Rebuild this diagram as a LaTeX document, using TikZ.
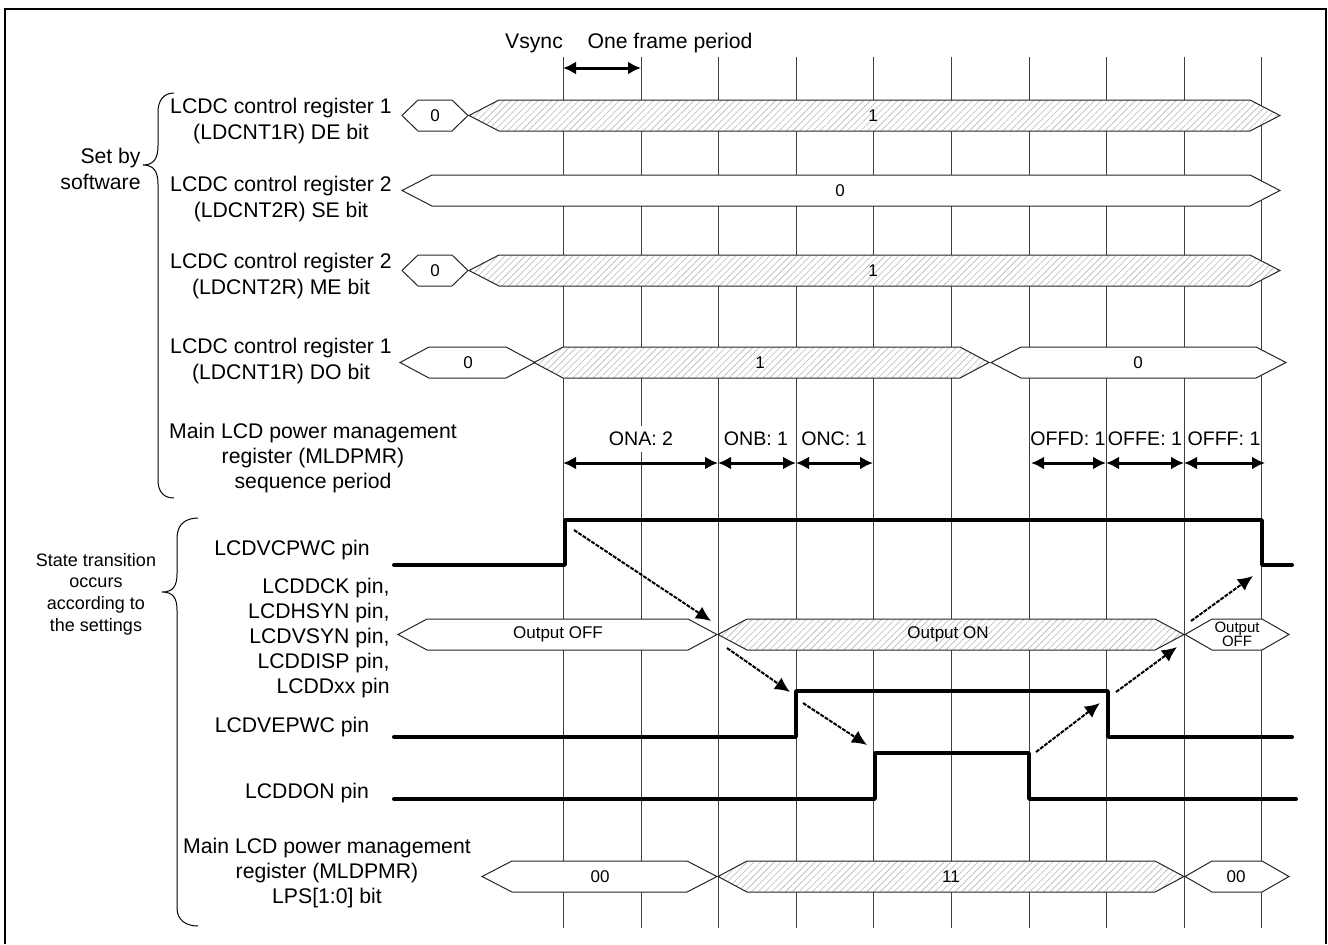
\documentclass[tikz,border=0pt]{standalone}
\usepackage{fontspec}
\setmainfont{Liberation Sans}
\usetikzlibrary{arrows.meta, patterns.meta}

\begin{document}
\begin{tikzpicture}[
  x=0.5pt, y=-0.5pt,
  rowlabel/.style={font=\fontsize{10.6}{12.6}\selectfont, align=center, inner sep=0pt},
  sidelabel/.style={font=\fontsize{9}{10.8}\selectfont, align=center, inner sep=0pt},
  buslabel/.style={font=\fontsize{8.5}{10}\selectfont, inner sep=0pt},
  frameline/.style={line width=1.2pt, black},
  tick/.style={line width=0.5pt, black!75},
  plain/.style={draw=black!85, line width=0.5pt, fill=white},
  hatched/.style={draw=black!85, line width=0.5pt, preaction={fill=white},
    pattern={Lines[angle=45, distance=2.4pt, line width=0.3pt]}, pattern color=black!28},
  span/.style={line width=1.5pt, {Latex[length=6.5pt, width=6.5pt]}-{Latex[length=6.5pt, width=6.5pt]}},
  spanlabel/.style={font=\fontsize{9.8}{12}\selectfont, fill=white, inner sep=0pt, minimum height=13pt},
  level/.style={line width=2pt, line cap=round, miter limit=1},
  cause/.style={line width=1pt, dash pattern=on 2pt off 0.6pt, -{Latex[length=7.5pt, width=7pt]}},
  curly/.style={line width=0.5pt},
]
\useasboundingbox (0,0) rectangle (1328,944);
\draw[frameline] (5,944) -- (5,9) -- (1326,9) -- (1326,944);
\foreach \x in {563,641,718,796,873,951,1029,1106,1184,1261}{
  \draw[tick] (\x,57) -- (\x,928);
}
% register and pin buses
\foreach \name/\xa/\xb/\s/\y/\kind/\lx/\val in {
  deoff/402/468/16/115.5/plain/435/0, deon/469/1280/30/115.5/hatched/873/1,
  seoff/402/1280/30/190.5/plain/840/0,
  meoff/402/468/16/270.5/plain/435/0, meon/469/1280/30/270.5/hatched/873/1,
  dooffa/400/535/29/362.5/plain/468/0, doon/534/989/29/362.5/hatched/760/1,
  dooffb/991/1286/30/362.5/plain/1138/0,
  outoffa/398/717/29/634.5/plain/558/Output OFF, outon/718/1184/29/634.5/hatched/948/Output ON,
  lpsa/482/717/30/876.5/plain/600/00, lpsb/718/1184/29/876.5/hatched/951/11,
  lpsc/1185/1289/27/876.5/plain/1236/00}{
  \draw[\kind] (\xa,\y) -- (\xa+\s,\y-15.5) -- (\xb-\s,\y-15.5) -- (\xb,\y)
    -- (\xb-\s,\y+15.5) -- (\xa+\s,\y+15.5) -- cycle;
  \node[buslabel] (\name) at (\lx,\y) {\val};
}
\draw[plain] (1185,634.5) -- (1212,619) -- (1262,619) -- (1289,634.5) -- (1262,650) -- (1212,650) -- cycle;
\node[font=\fontsize{7.5}{7}\selectfont, align=center, inner sep=0pt] (outoffb) at (1237,634) {Output\\ OFF};
% row names
\node[rowlabel] (vsync) at (534,43) {Vsync};
\node[rowlabel] (frame) at (670,43) {One frame period};
\node[rowlabel] (de) at (281,121) {LCDC control register 1\\ (LDCNT1R) DE bit};
\node[rowlabel] (se) at (281,199) {LCDC control register 2\\ (LDCNT2R) SE bit};
\node[rowlabel] (me) at (281,276) {LCDC control register 2\\ (LDCNT2R) ME bit};
\node[rowlabel] (do) at (281,361) {LCDC control register 1\\ (LDCNT1R) DO bit};
\node[rowlabel] (seq) at (313,458) {Main LCD power management\\ register (MLDPMR)\\ sequence period};
\node[rowlabel] (vcp) at (292,550) {LCDVCPWC pin};
\node[rowlabel, anchor=east, align=right] (pins) at (390,638) {LCDDCK pin,\\ LCDHSYN pin,\\ LCDVSYN pin,\\ LCDDISP pin,\\ LCDDxx pin};
\node[rowlabel] (vep) at (292,727) {LCDVEPWC pin};
\node[rowlabel] (don) at (307,793) {LCDDON pin};
\node[rowlabel] (lps) at (327,873) {Main LCD power management\\ register (MLDPMR)\\ LPS[1:0] bit};
\node[rowlabel, anchor=east, align=right] (soft) at (141,169) {Set by\\ software};
\node[sidelabel] (state) at (96,594) {State transition\\ occurs\\ according to\\ the settings};
% braces
\draw[curly] (174,93) .. controls (164,93) and (158,100) .. (158,112) -- (158,146)
  .. controls (158,158) and (154,165) .. (143,165) .. controls (154,165) and (158,172) .. (158,184)
  -- (158,480) .. controls (158,492) and (164,498) .. (174,498);
\draw[curly] (198,518) .. controls (186,518) and (177,524) .. (177,538) -- (177,574)
  .. controls (177,586) and (173,592) .. (162,592) .. controls (173,592) and (177,598) .. (177,610)
  -- (177,908) .. controls (177,920) and (186,926) .. (198,926);
% period arrows
\coordinate (fa) at (563,68);
\coordinate (fb) at (641,68);
\draw[span] (fa) -- (fb);
\foreach \name/\xa/\xb/\lx/\val in {
  ona/563/718/641/ONA: 2, onb/718/796/756/ONB: 1, onc/796/873/834/ONC: 1,
  offd/1031/1106/1068/OFFD: 1, offe/1106/1184/1145/OFFE: 1, offf/1184/1265/1224/OFFF: 1}{
  \coordinate (\name a) at (\xa,463);
  \coordinate (\name b) at (\xb,463);
  \draw[span] (\name a) -- (\name b);
  \node[spanlabel] (\name) at (\lx,439) {\val};
}
% pin levels
\draw[level] (394,565) -- (565,565) -- (565,520) -- (1262,520) -- (1262,565) -- (1292,565);
\draw[level] (394,737) -- (796,737) -- (796,691) -- (1108,691) -- (1108,737) -- (1292,737);
\draw[level] (394,799) -- (875,799) -- (875,753) -- (1029,753) -- (1029,799) -- (1296,799);
% cause and effect
\foreach \i/\xa/\ya/\xb/\yb in {
  1/574/530/711/621, 2/727/648/790/692, 3/803/703/867/745,
  4/1036/752/1100/703, 5/1116/692/1177/647, 6/1191/621/1253/576}{
  \coordinate (c\i a) at (\xa,\ya);
  \coordinate (c\i b) at (\xb,\yb);
  \draw[cause] (c\i a) -- (c\i b);
}
\end{tikzpicture}
\end{document}
